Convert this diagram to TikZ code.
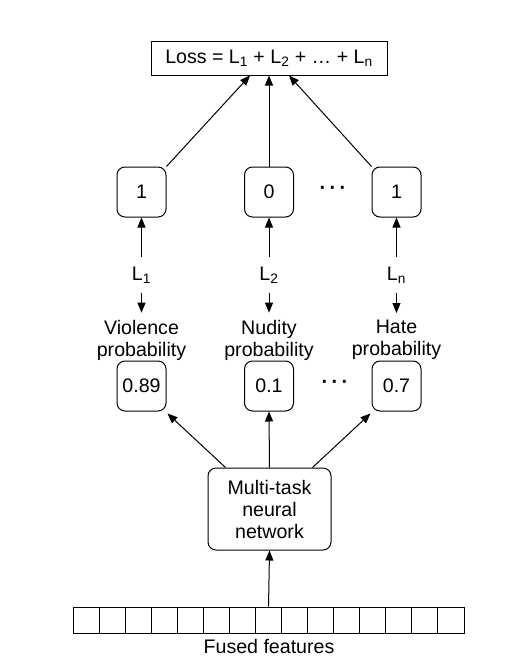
\documentclass[tikz,border=0pt]{standalone}
\usepackage{fontspec}
\setmainfont{Liberation Sans}
\usetikzlibrary{arrows.meta,calc}
\begin{document}
\begin{tikzpicture}[x=1pt,y=-1pt,
  every node/.style={font=\fontsize{19.6}{22}\selectfont},
  arr/.style={line width=1pt,-{Triangle[length=10pt,width=8pt]}},
  rbox/.style={draw,line width=1pt,rounded corners=8pt,minimum width=49pt,minimum height=50pt,inner sep=0pt},
  sbox/.style={draw,line width=1pt,inner sep=0pt},
  lablbl/.style={inner sep=0pt,minimum height=35pt},
  catname/.style={align=center,inner xsep=0pt,inner ysep=7pt},
  cell/.style={draw,line width=1pt,minimum width=26.07pt,minimum height=26pt,inner sep=0pt},
  dotsx/.style={inner sep=0pt,font=\fontsize{20}{22}\selectfont\bfseries}
]
\useasboundingbox (0,0) rectangle (527,670);

% Loss
\node[sbox,minimum width=236pt,minimum height=34pt] (loss) at (269,58) {Loss = L\textsubscript{1} + L\textsubscript{2} + … + L\textsubscript{n}};

% Targets
\node[rbox] (t1) at (141.5,192) {1};
\node[rbox] (t2) at (269,192) {0};
\node[rbox] (t3) at (396.5,192) {1};
\node[dotsx] (d1) at (333,190) {·\,·\,·};

% Loss labels
\node[lablbl] (l1) at (141.5,275) {L\textsubscript{1}};
\node[lablbl] (l2) at (269,275) {L\textsubscript{2}};
\node[lablbl] (l3) at (396.5,275) {L\textsubscript{n}};

% Names
\node[catname] (n1) at (141.5,340) {Violence\\probability};
\node[catname] (n2) at (269,340) {Nudity\\probability};
\node[catname] (n3) at (396.5,340) {Hate\\probability};

% Probabilities
\node[rbox] (p1) at (141.5,386) {0.89};
\node[rbox] (p2) at (269,386) {0.1};
\node[rbox] (p3) at (396.5,386) {0.7};
\node[dotsx] (d2) at (335,384) {·\,·\,·};

% Multi-task network
\node[rbox,minimum width=123pt,minimum height=82pt,align=center] (mtl) at (269.5,509) {Multi-task\\neural\\network};

% Fused features
\foreach \i in {0,...,14} {
  \node[cell] (c\i) at ({73+26.07*\i+13.035},620) {};
}
\node[inner sep=0pt] (ff) at (269,646) {Fused features};

% Connectors
\draw[arr] (t1.north east) -- ([xshift=-19pt]loss.south);
\draw[arr] (t2.north) -- (loss.south);
\draw[arr] (t3.north west) -- ([xshift=20pt]loss.south);

\draw[arr] (l1.north) -- (t1.south);
\draw[arr] (l2.north) -- (t2.south);
\draw[arr] (l3.north) -- (t3.south);
\draw[arr] (l1.south) -- (n1.north);
\draw[arr] (l2.south) -- (n2.north);
\draw[arr] (l3.south) -- (n3.north);

\coordinate (m1) at ([xshift=18pt]mtl.north west);
\coordinate (m3) at ([xshift=-19pt]mtl.north east);
\draw[arr] (m1) -- ([xshift=1pt,yshift=-2pt]p1.south east);
\draw[arr] (mtl.north) -- (p2.south);
\draw[arr] (m3) -- ([xshift=-1pt,yshift=-2pt]p3.south west);

\draw[arr] (c7.north) -- (mtl.south);
\end{tikzpicture}
\end{document}
